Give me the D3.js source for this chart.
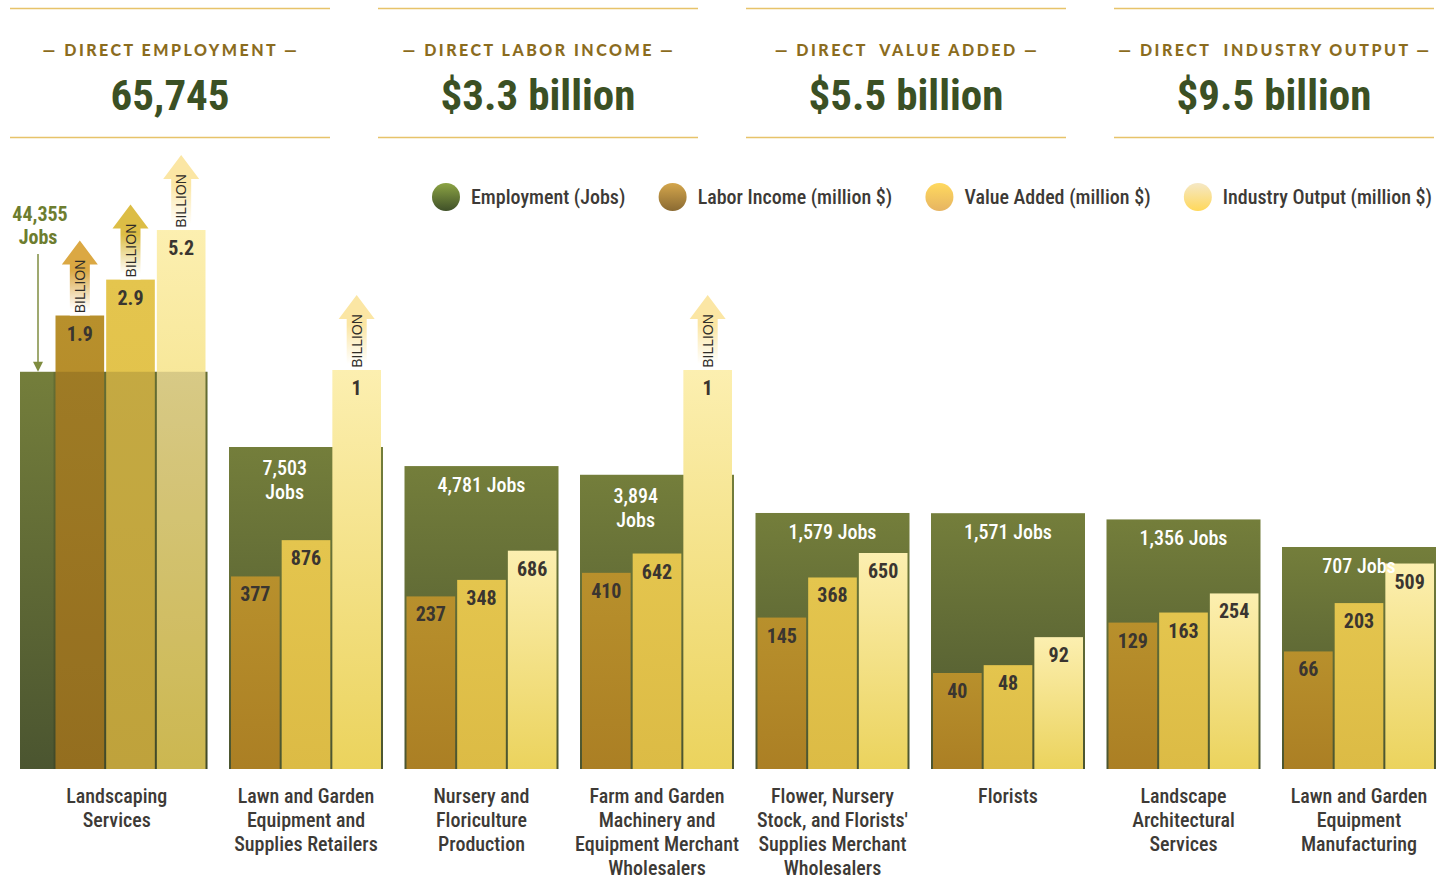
<!DOCTYPE html>
<html>
<head>
<meta charset="utf-8">
<script src="https://cdn.jsdelivr.net/npm/d3@7"></script>
<style>
  html, body { margin: 0; padding: 0; background: #ffffff; }
  svg { display: block; }
  .nar { font-family: "Roboto Condensed", Roboto, sans-serif; font-stretch: condensed; }
</style>
</head>
<body>
<svg id="chart" width="1454" height="879"></svg>
<script>
// ---------------- DATA ----------------
const headerTitles = ["— DIRECT EMPLOYMENT —", "— DIRECT LABOR INCOME —", "— DIRECT  VALUE ADDED —", "— DIRECT  INDUSTRY OUTPUT —"];
const headerValues = ["65,745", "$3.3 billion", "$5.5 billion", "$9.5 billion"];

const legendLabels = ["Employment (Jobs)", "Labor Income (million $)", "Value Added (million $)", "Industry Output (million $)"];

const categories = [
  ["Landscaping", "Services"],
  ["Lawn and Garden", "Equipment and", "Supplies Retailers"],
  ["Nursery and", "Floriculture", "Production"],
  ["Farm and Garden", "Machinery and", "Equipment Merchant", "Wholesalers"],
  ["Flower, Nursery", "Stock, and Florists'", "Supplies Merchant", "Wholesalers"],
  ["Florists"],
  ["Landscape", "Architectural", "Services"],
  ["Lawn and Garden", "Equipment", "Manufacturing"]
];
const employment     = [44355, 7503, 4781, 3894, 1579, 1571, 1356, 707];
const laborIncome    = [1900, 377, 237, 410, 145, 40, 129, 66];
const valueAdded     = [2900, 876, 348, 642, 368, 48, 163, 203];
const industryOutput = [5200, 1000, 686, 1000, 650, 92, 254, 509];

// ---------------- SETUP ----------------
const svg = d3.select("#chart");
const defs = svg.append("defs");

function vGrad(id, top, bottom) {
  const g = defs.append("linearGradient").attr("id", id)
    .attr("x1", 0).attr("y1", 0).attr("x2", 0).attr("y2", 1);
  g.append("stop").attr("offset", "0%").attr("stop-color", top);
  g.append("stop").attr("offset", "100%").attr("stop-color", bottom);
}
vGrad("gGreen", "#747e3b", "#4b5530");
vGrad("gLabor", "#b8902c", "#ab7f24");
vGrad("gValue", "#e4c54e", "#dcbb45");
vGrad("gOutput", "#fcefb0", "#ebd35d");
vGrad("lgGreen", "#8ca444", "#3f5028");
vGrad("lgLabor", "#d4a64c", "#8a6a32");
vGrad("lgValue", "#ffd95e", "#e6b462");
vGrad("lgOutput", "#f5e8c6", "#ffd85a");
function aGrad(id, c) {
  const g = defs.append("linearGradient").attr("id", id)
    .attr("x1", 0).attr("y1", 0).attr("x2", 0).attr("y2", 1);
  g.append("stop").attr("offset", "0%").attr("stop-color", c);
  g.append("stop").attr("offset", "40%").attr("stop-color", c);
  g.append("stop").attr("offset", "92%").attr("stop-color", "#ffffff");
}
aGrad("aLabor", "#dba843");
aGrad("aValue", "#dcbd45");
aGrad("aOutput", "#fbe6a4");

function ntext(sel, size, weight, fill) {
  return sel.append("text").attr("class", "nar").attr("font-size", size)
    .attr("font-weight", weight).attr("fill", fill);
}

// ---------------- HEADER ----------------
const panelX = d3.scaleBand().domain(d3.range(headerTitles.length)).range([10, 1434]).paddingInner(48 / 368);
const header = svg.append("g");
headerTitles.forEach((t, i) => {
  const x0 = panelX(i), bw = panelX.bandwidth(), cx = x0 + bw / 2;
  [8.5, 137.5].forEach(yy => header.append("line").attr("x1", x0).attr("x2", x0 + bw)
    .attr("y1", yy).attr("y2", yy).attr("stroke", "#e7c36a").attr("stroke-width", 1.5));
  header.append("text").attr("x", cx + 1).attr("y", 56).attr("text-anchor", "middle")
    .attr("font-family", "Lato, 'Open Sans', sans-serif").attr("font-weight", 900)
    .attr("font-size", 16).attr("letter-spacing", 2.5).attr("fill", "#8b6c1e")
    .style("white-space", "pre").text(t);
  ntext(header, 43, 700, "#3b5024").attr("x", cx).attr("y", 110).attr("text-anchor", "middle")
    .text(headerValues[i]);
});

// ---------------- LEGEND ----------------
const legendFills = ["url(#lgGreen)", "url(#lgLabor)", "url(#lgValue)", "url(#lgOutput)"];
const legend = svg.append("g");
const items = legendLabels.map((lab, i) => {
  const t = ntext(legend, 20, 500, "#3d3a36").attr("y", 204).text(lab);
  return { t, w: t.node().getComputedTextLength(), i };
});
const circW = 39, legStart = 432, legEnd = 1432;
const gap = (legEnd - legStart - d3.sum(items, d => circW + d.w)) / (items.length - 1);
let lx = legStart;
items.forEach(d => {
  legend.append("circle").attr("cx", lx + 14).attr("cy", 197).attr("r", 14).attr("fill", legendFills[d.i]);
  d.t.attr("x", lx + circW);
  lx += circW + d.w + gap;
});

// ---------------- SCALES ----------------
const baseline = 769;
const x = d3.scaleBand().domain(d3.range(categories.length)).range([53.5, 1436]).paddingInner(0.1225).paddingOuter(0);
const bw = x.bandwidth();
const measures = ["labor", "value", "output"];
const xIn = d3.scaleBand().domain(measures).range([2, bw - 2]).paddingInner(0.04);
const yEmp = d3.scaleLog().domain([707, 7503]).range([547, 447]);
const yMoney = d3.scaleLog().domain([40, 650]).range([673, 553]);
const yBillion = d3.scaleLog().domain([1000, 10000]).range([370, 174.5]);
const yVal = v => v >= 1000 ? yBillion(v) : yMoney(v);
const fmtJobs = d3.format(",");
const seriesOf = { labor: laborIncome, value: valueAdded, output: industryOutput };
const barFill = { labor: "url(#gLabor)", value: "url(#gValue)", output: "url(#gOutput)" };
const arrowFill = { labor: "url(#aLabor)", value: "url(#aValue)", output: "url(#aOutput)" };
const calloutExt = 33.5;

const chart = svg.append("g");

categories.forEach((cat, i) => {
  const g = chart.append("g");
  const gx = x(i);
  const offScale = employment[i] > yEmp.domain()[1] * 3;
  const gLeft = offScale ? gx - calloutExt : gx;
  const gRight = gx + bw;
  const eTop = yEmp(employment[i]);

  g.append("rect").attr("x", gLeft).attr("y", eTop).attr("width", gRight - gLeft)
    .attr("height", baseline - eTop).attr("fill", "url(#gGreen)");

  measures.forEach(m => {
    const v = seriesOf[m][i];
    const bx = gx + xIn(m), w = xIn.bandwidth(), top = yVal(v);
    g.append("rect").attr("x", bx).attr("y", top).attr("width", w)
      .attr("height", baseline - top).attr("fill", barFill[m]);
    if (v >= 1000) {
      const cx = bx + w / 2, tip = top - 75, headH = 24, headW = 36, shaftW = 20;
      const path = d3.path();
      path.moveTo(cx, tip);
      path.lineTo(cx + headW / 2, tip + headH);
      path.lineTo(cx + shaftW / 2, tip + headH);
      path.lineTo(cx + shaftW / 2, top);
      path.lineTo(cx - shaftW / 2, top);
      path.lineTo(cx - shaftW / 2, tip + headH);
      path.lineTo(cx - headW / 2, tip + headH);
      path.closePath();
      g.append("path").attr("d", path.toString()).attr("fill", arrowFill[m]);
      g.append("text").attr("transform", `translate(${cx + 5},${top - 29}) rotate(-90)`)
        .attr("text-anchor", "middle").attr("font-family", "'Liberation Sans', Arial, sans-serif")
        .attr("font-size", 14).attr("fill", "#2f2c28").text("BILLION");
    }
  });

  if (offScale) {
    g.append("rect").attr("x", gx).attr("y", eTop).attr("width", bw).attr("height", baseline - eTop)
      .attr("fill", "#000").attr("opacity", 0.13);
    const cx = gLeft + 18;
    ntext(g, 20, 700, "#6d7d2f").attr("x", cx + 2).attr("y", 221).attr("text-anchor", "middle")
      .text(fmtJobs(employment[i]));
    ntext(g, 20, 700, "#6d7d2f").attr("x", cx).attr("y", 244).attr("text-anchor", "middle").text("Jobs");
    g.append("line").attr("x1", cx).attr("x2", cx).attr("y1", 254).attr("y2", eTop - 8)
      .attr("stroke", "#7f8c40").attr("stroke-width", 1.5);
    g.append("path").attr("d", `M${cx - 5},${eTop - 10}L${cx + 5},${eTop - 10}L${cx},${eTop}Z`)
      .attr("fill", "#7f8c40");
  } else if (industryOutput[i] >= 1000) {
    const cx = (gx + gx + xIn("output")) / 2 + 4;
    ntext(g, 20, 500, "#ffffff").attr("x", cx).attr("y", eTop + 28).attr("text-anchor", "middle")
      .text(fmtJobs(employment[i]));
    ntext(g, 20, 500, "#ffffff").attr("x", cx).attr("y", eTop + 52).attr("text-anchor", "middle").text("Jobs");
  } else {
    ntext(g, 20, 500, "#ffffff").attr("x", gx + bw / 2).attr("y", eTop + 26).attr("text-anchor", "middle")
      .text(fmtJobs(employment[i]) + " Jobs");
  }

  measures.forEach(m => {
    const v = seriesOf[m][i];
    const bx = gx + xIn(m), w = xIn.bandwidth(), top = yVal(v);
    ntext(g, 20, 700, "#3a3530").attr("x", bx + w / 2).attr("y", top + 25).attr("text-anchor", "middle")
      .text(v >= 1000 ? String(v / 1000) : fmtJobs(v));
  });

  const lcx = (gLeft + gRight) / 2 + (offScale ? 3 : 0);
  const t = ntext(g, 20, 500, "#3d3a36").attr("x", lcx).attr("y", 803).attr("text-anchor", "middle");
  cat.forEach((line, k) => {
    t.append("tspan").attr("x", lcx).attr("dy", k === 0 ? 0 : 24).text(line);
  });
});
</script>
</body>
</html>
